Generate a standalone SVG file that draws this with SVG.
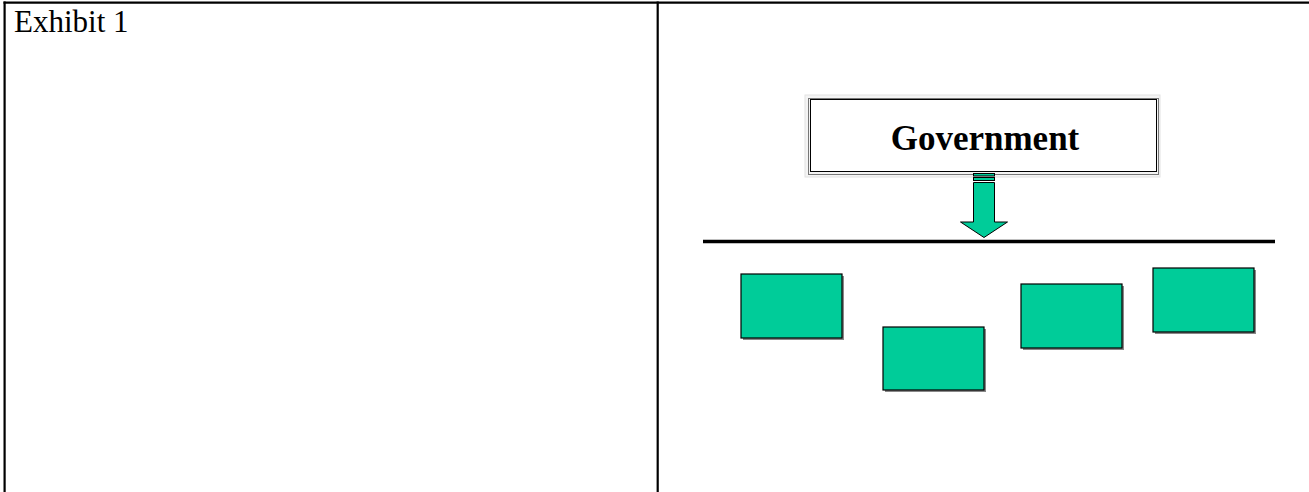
<svg xmlns="http://www.w3.org/2000/svg" width="1309" height="492" viewBox="0 0 1309 492">
<style>
.rule{stroke:#000;stroke-width:2.2;fill:none}
.box{fill:#00CC99;stroke:#000;stroke-width:1.2}
.shadow{fill:#888}
.lbl{font-family:"Liberation Serif","Times New Roman",serif;fill:#000}
</style>
<rect width="1309" height="492" fill="#fff"/>
<g id="frame">
<line class="rule" x1="3.5" y1="2.6" x2="1309" y2="2.6"/>
<line class="rule" x1="4.6" y1="1.5" x2="4.6" y2="492"/>
<line class="rule" x1="657.7" y1="1.5" x2="657.7" y2="492"/>
</g>
<g id="exhibit-label"><text class="lbl" x="14" y="31.5" font-size="31">Exhibit 1</text></g>
<g id="government">
<rect x="805" y="95" width="355" height="82" fill="#f4f4f4" stroke="#e2e2e2"/>
<rect x="808.5" y="98.5" width="350" height="76" fill="none" stroke="#777"/>
<rect x="810.5" y="99.5" width="346" height="72" fill="#fff" stroke="#000"/>
<text class="lbl" x="985" y="150" font-size="35" font-weight="bold" text-anchor="middle">Government</text>
</g>
<g id="connectors">
<rect x="973.5" y="173.5" width="21" height="2.5" fill="#00CC99" stroke="#000" stroke-width="1"/>
<rect x="973.5" y="177.5" width="21" height="3" fill="#00CC99" stroke="#000" stroke-width="1"/>
<path d="M973.5 182.5 H994.5 V222 H1007.5 L984 237.5 L960.5 222 H973.5 Z" fill="#00CC99" stroke="#000" stroke-width="1"/>
<line x1="703" y1="241.5" x2="1275" y2="241.5" stroke="#000" stroke-width="3.5"/>
</g>
<g id="box1"><rect class="shadow" x="743" y="276" width="101" height="64"/><rect class="box" x="741" y="274" width="101" height="64"/></g>
<g id="box2"><rect class="shadow" x="885" y="329" width="101" height="63"/><rect class="box" x="883" y="327" width="101" height="63"/></g>
<g id="box3"><rect class="shadow" x="1023" y="286" width="101" height="64"/><rect class="box" x="1021" y="284" width="101" height="64"/></g>
<g id="box4"><rect class="shadow" x="1155" y="270" width="101" height="64"/><rect class="box" x="1153" y="268" width="101" height="64"/></g>
</svg>
